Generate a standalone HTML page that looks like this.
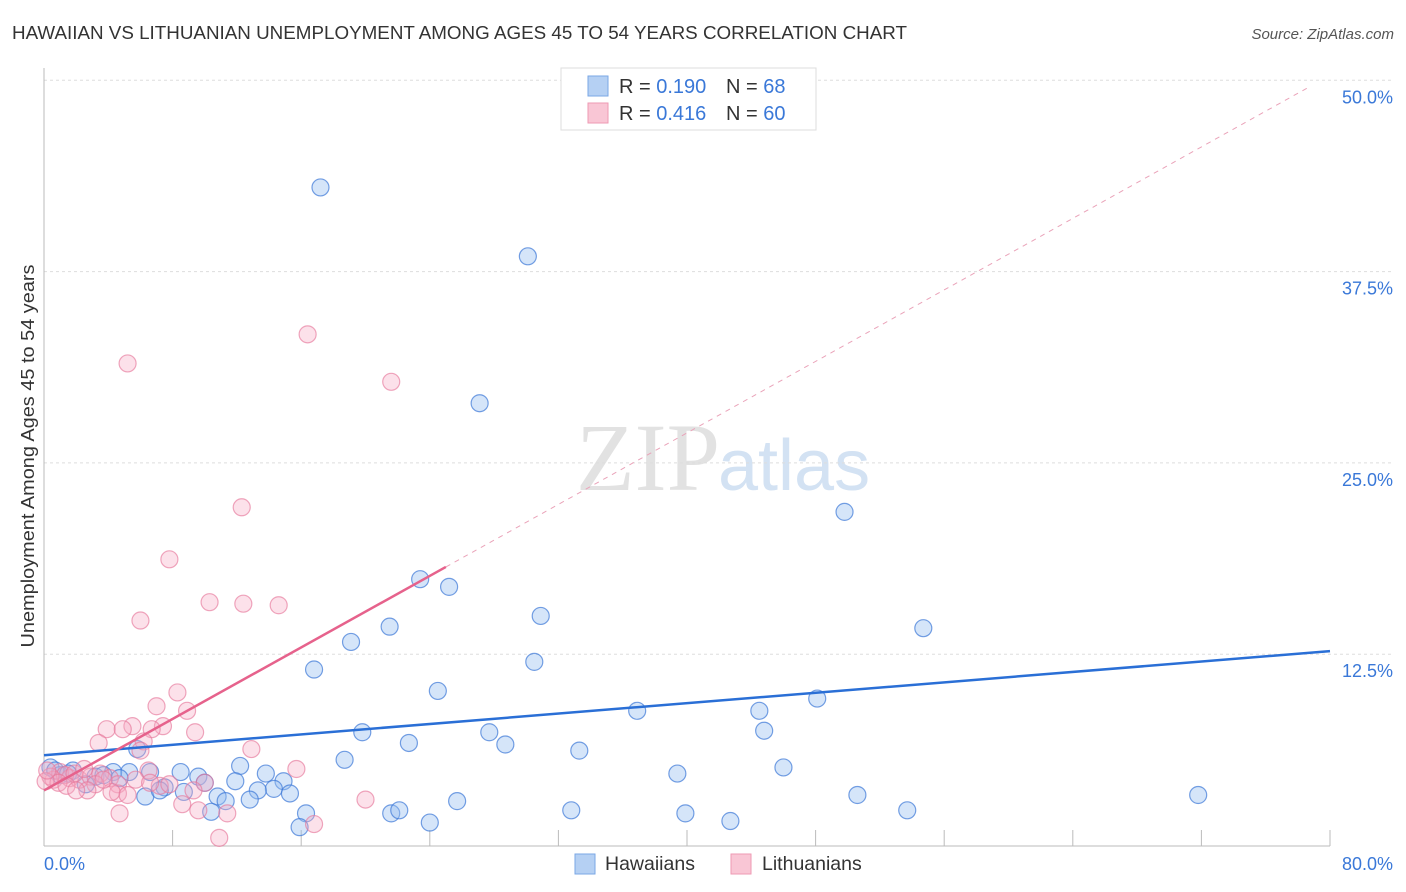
<!DOCTYPE html>
<html><head><meta charset="utf-8"><style>
body{margin:0;background:#fff;font-family:"Liberation Sans",sans-serif}
svg{display:block}
</style></head><body>
<svg width="1406" height="892">
<text x="12" y="39" font-size="18" fill="#333" textLength="895" lengthAdjust="spacingAndGlyphs">HAWAIIAN VS LITHUANIAN UNEMPLOYMENT AMONG AGES 45 TO 54 YEARS CORRELATION CHART</text>
<text x="1394" y="39" font-size="15" fill="#555" font-style="italic" text-anchor="end">Source: ZipAtlas.com</text>
<text x="720" y="490" font-size="96" fill="#e2e2e2" text-anchor="end" font-family="Liberation Serif,serif">ZIP</text>
<text x="718" y="490" font-size="72" fill="#d3e2f3">atlas</text>
<g id="grid"></g><g id="axes"></g><g id="pts"></g><g id="lines"></g>
<text transform="translate(34,456) rotate(-90)" font-size="18" fill="#333" text-anchor="middle" textLength="383" lengthAdjust="spacingAndGlyphs">Unemployment Among Ages 45 to 54 years</text>
<text x="44" y="870" font-size="18" fill="#3a78d8">0.0%</text>
<text x="1393" y="870" font-size="18" fill="#3a78d8" text-anchor="end">80.0%</text>
<g>
<rect x="561" y="68" width="255" height="62" fill="#fff" stroke="#ddd"/>
<rect x="588" y="76" width="20" height="20" fill="#b5d0f3" stroke="#7aa7e6"/>
<rect x="588" y="103" width="20" height="20" fill="#f9c6d5" stroke="#ee9ab3"/>
<text x="619" y="93" font-size="20" fill="#333">R = <tspan fill="#3a78d8">0.190</tspan><tspan x="726">N = </tspan><tspan fill="#3a78d8">68</tspan></text>
<text x="619" y="120" font-size="20" fill="#333">R = <tspan fill="#3a78d8">0.416</tspan><tspan x="726">N = </tspan><tspan fill="#3a78d8">60</tspan></text>
</g>
<g><rect x="575" y="854" width="20" height="20" fill="#b5d0f3" stroke="#7aa7e6"/><text x="605" y="870" font-size="19.5" fill="#333">Hawaiians</text></g>
<g><rect x="731" y="854" width="20" height="20" fill="#f9c6d5" stroke="#ee9ab3"/><text x="762" y="870" font-size="19.5" fill="#333">Lithuanians</text></g>
</svg>
<script>
const yTicks=[12.5,25,37.5,50];
const yTickLabels=["12.5%","25.0%","37.5%","50.0%"];
const xTicks=[8,16,24,32,40,48,56,64,72,80];
const hawX=[17.2,30.1,27.1,49.8,23.4,25.2,30.9,21.5,54.7,19.1,30.5,16.8,24.5,36.9,48.1,44.5,44.8,19.8,27.7,22.7,28.7,33.3,5.8,18.7,12.2,46.0,39.4,13.8,8.5,9.6,5.3,6.6,4.3,3.2,1.8,0.4,11.9,14.9,10.0,14.3,13.3,15.3,7.5,8.7,6.3,10.8,11.3,12.8,50.6,71.8,25.7,16.3,21.6,22.1,32.8,39.9,53.7,42.7,24.0,15.9,10.4,1.0,2.6,3.7,0.7,1.5,4.7,7.2];
const hawY=[43.0,38.5,28.9,21.8,17.4,16.9,15.0,14.3,14.2,13.3,12.0,11.5,10.1,8.8,9.6,8.8,7.5,7.4,7.4,6.7,6.6,6.2,6.3,5.6,5.2,5.1,4.7,4.7,4.8,4.5,4.8,4.8,4.8,4.5,4.9,5.1,4.2,4.2,4.1,3.7,3.6,3.4,3.8,3.5,3.2,3.2,2.9,3.0,3.3,3.3,2.9,2.1,2.1,2.3,2.3,2.1,2.3,1.6,1.5,1.2,2.2,4.6,4.0,4.6,4.9,4.7,4.4,3.6];
const litX=[16.4,5.2,21.6,12.3,7.8,10.3,12.4,14.6,6.0,8.3,7.0,8.9,7.4,9.4,3.9,5.5,4.9,6.7,3.4,6.2,6.0,12.9,15.7,6.5,1.0,1.6,2.2,2.9,3.5,4.1,4.6,0.6,1.3,1.9,7.2,7.8,10.0,9.3,4.6,4.2,8.6,9.6,5.2,20.0,11.4,4.7,10.9,16.8,0.4,0.9,2.5,3.2,3.7,5.7,0.1,0.2,2.7,1.4,2.0,6.6];
const litY=[33.4,31.5,30.3,22.1,18.7,15.9,15.8,15.7,14.7,10.0,9.1,8.8,7.8,7.4,7.6,7.8,7.6,7.6,6.7,6.8,6.2,6.3,5.0,4.9,4.8,4.4,4.3,4.5,4.7,4.4,4.0,4.3,4.6,4.7,3.9,4.0,4.1,3.6,3.4,3.5,2.7,2.3,3.3,3.0,2.1,2.1,0.5,1.4,4.5,4.1,5.0,4.0,4.3,4.3,4.2,4.9,3.6,3.9,3.6,4.1];
const hawTrend=[5.9,12.7];   // y at x=0 and x=80
const litTrend=[3.6,0.584];  // intercept, slope
const X=v=>44+v/80*1286, Y=v=>845.5-v/12.5*191.3;
const NS="http://www.w3.org/2000/svg";
function mk(p,t,a){const e=document.createElementNS(NS,t);for(const k in a)e.setAttribute(k,a[k]);p.appendChild(e);return e;}
const grid=document.getElementById('grid'),axes=document.getElementById('axes'),pts=document.getElementById('pts'),lines=document.getElementById('lines');
yTicks.forEach((t,i)=>{
 const g=mk(grid,'line',{x1:44,x2:1394,y1:Y(t),y2:Y(t),stroke:'#ddd','stroke-dasharray':'3,3'});
 
 
 const l=mk(grid,'text',{x:1393,y:Y(t)+23,'font-size':18,fill:'#3a78d8','text-anchor':'end'});l.textContent=yTickLabels[i];
 
 
});
const ya=mk(axes,'line',{x1:44,x2:44,y1:68,y2:846,stroke:'#bbb'});


const xa=mk(axes,'line',{x1:44,x2:1330,y1:846,y2:846,stroke:'#bbb'});


xTicks.forEach(t=>{const e=mk(axes,'line',{x1:X(t),x2:X(t),y1:830,y2:846,stroke:'#bbb'});
 
 });
hawX.forEach((x,i)=>{const c=mk(pts,'circle',{cx:X(x),cy:Y(hawY[i]),r:8.5,fill:'rgba(150,190,240,0.4)',stroke:'rgba(60,120,215,0.7)','stroke-width':1.2});
 
 });
litX.forEach((x,i)=>{const c=mk(pts,'circle',{cx:X(x),cy:Y(litY[i]),r:8.5,fill:'rgba(245,170,195,0.35)',stroke:'rgba(230,120,155,0.65)','stroke-width':1.2});
 
 });
const hb=mk(lines,'line',{x1:X(0),y1:Y(hawTrend[0]),x2:X(80),y2:Y(hawTrend[1]),stroke:'#2a6fd6','stroke-width':2.5});


const pd=mk(lines,'line',{x1:X(25),y1:Y(litTrend[0]+litTrend[1]*25),x2:X(78.7),y2:Y(litTrend[0]+litTrend[1]*78.7),stroke:'#eaa3b9','stroke-width':1,'stroke-dasharray':'5,5'});


const ps=mk(lines,'line',{x1:X(0),y1:Y(litTrend[0]),x2:X(25),y2:Y(litTrend[0]+litTrend[1]*25),stroke:'#e6628c','stroke-width':2.5});


</script>
</body></html>
